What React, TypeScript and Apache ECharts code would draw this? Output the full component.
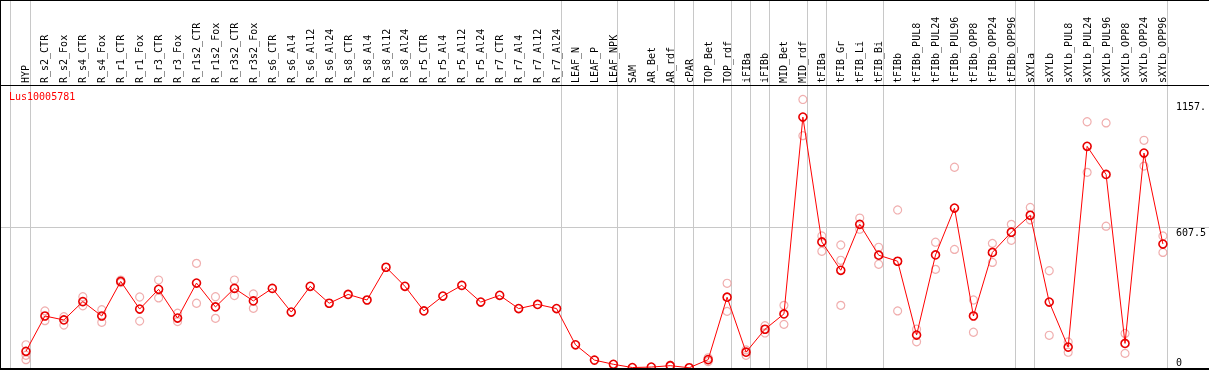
import React, { useEffect, useRef } from 'react';
import * as echarts from 'echarts';

const title = 'Lus10005781';

const categories = [
  'HYP', 'R_s2_CTR', 'R_s2_Fox', 'R_s4_CTR', 'R_s4_Fox', 'R_r1_CTR', 'R_r1_Fox', 'R_r3_CTR', 'R_r3_Fox',
  'R_r1s2_CTR', 'R_r1s2_Fox', 'R_r3s2_CTR', 'R_r3s2_Fox', 'R_s6_CTR', 'R_s6_Al4', 'R_s6_Al12', 'R_s6_Al24',
  'R_s8_CTR', 'R_s8_Al4', 'R_s8_Al12', 'R_s8_Al24', 'R_r5_CTR', 'R_r5_Al4', 'R_r5_Al12', 'R_r5_Al24',
  'R_r7_CTR', 'R_r7_Al4', 'R_r7_Al12', 'R_r7_Al24', 'LEAF_N', 'LEAF_P', 'LEAF_NPK', 'SAM', 'AR_Bet', 'AR_rdf',
  'cPAR', 'TOP_Bet', 'TOP_rdf', 'iFIBa', 'iFIBb', 'MID_Bet', 'MID_rdf', 'tFIBa', 'tFIB_Gr', 'tFIB_Li', 'tFIB_Bi',
  'tFIBb', 'tFIBb_PUL8', 'tFIBb_PUL24', 'tFIBb_PUL96', 'tFIBb_OPP8', 'tFIBb_OPP24', 'tFIBb_OPP96', 'sXYLa',
  'sXYLb', 'sXYLb_PUL8', 'sXYLb_PUL24', 'sXYLb_PUL96', 'sXYLb_OPP8', 'sXYLb_OPP24', 'sXYLb_OPP96',
];

const means = [
  72, 224, 207, 286, 224, 373, 254, 339, 215,
  366, 263, 343, 289, 343, 241, 352, 279,
  317, 293, 434, 352, 246, 310, 356, 284,
  313, 256, 274, 256, 100, 34, 16, 2, 4, 10,
  1, 36, 305, 68, 167, 233, 1081, 543, 421, 619, 486,
  460, 142, 487, 689, 224, 498, 585, 658,
  284, 90, 955, 834, 106, 926, 534,
];

const repA = [
  100, 246, 221, 307, 251, 379, 306, 379, 236,
  451, 307, 379, 319, null, null, null, null,
  null, null, null, null, null, null, null, null,
  null, null, null, null, null, null, null, null, null, 12,
  null, 44, 365, 78, 182, 270, 1157, 569, 530, 646, 520,
  681, 167, 542, 865, 293, 537, 619, 692,
  419, 112, 1061, 1056, 149, 981, 569,
];

const repB = [
  55, 204, 185, 268, 197, 368, 202, 302, 200,
  279, 214, 312, 257, null, null, null, null,
  null, null, null, null, null, null, null, null,
  null, null, null, null, null, null, null, null, null, 8,
  null, 28, 244, 55, 151, 188, 1001, 503, 464, 598, 447,
  246, 113, 425, 511, 154, 455, 550, 638,
  141, 68, 843, 611, 63, 870, 498,
];

const repC = [
  36, null, null, null, null, null, null, null, null,
  null, null, null, null, null, null, null, null,
  null, null, null, null, null, null, null, null,
  null, null, null, null, null, null, null, null, null, null,
  null, null, null, null, null, null, null, null, 270, null, null,
  null, null, null, null, null, null, null, null,
  null, null, null, null, null, null, null,
];

const groupEnds = [
  'HYP', 'R_r7_Al24', 'LEAF_NPK', 'AR_rdf', 'cPAR', 'TOP_rdf', 'iFIBa', 'iFIBb',
  'MID_rdf', 'tFIBa', 'tFIB_Bi', 'tFIBb_OPP96', 'sXYLa', 'sXYLb_OPP96',
];

const yMax = 1215;
const midValue = 607.5;
const yTickValues = [0, 607.5, 1157.14];
const yTickLabels = ['0', '607.5', '1157.'];

export default function App() {
  const ref = useRef<HTMLDivElement>(null);

  useEffect(() => {
    const chart = echarts.init(ref.current as HTMLDivElement, null, { renderer: 'svg' });
    const font = 'DejaVu Sans Mono';

    const repData: number[][] = [];
    [repA, repB, repC].forEach((arr) =>
      arr.forEach((v, i) => {
        if (v != null) repData.push([i, v as number]);
      })
    );

    // [categoryIndex, flag] flag=1 means line sits left of the first category
    const boundaries: number[][] = [[0, 1], ...groupEnds.map((n) => [categories.indexOf(n), 0])];

    const richBase = { fontFamily: font, fontSize: 10, color: '#000' };

    chart.setOption({
      animation: false,
      title: {
        text: title,
        left: 9,
        top: 91,
        padding: 0,
        textStyle: { color: '#ff0000', fontSize: 10, fontFamily: font, fontWeight: 'normal' },
      },
      grid: { left: 16.5, right: 33.5, top: 86, bottom: 2 },
      xAxis: {
        type: 'category',
        data: categories,
        position: 'top',
        boundaryGap: true,
        axisLine: { show: false },
        axisTick: { show: false },
        splitLine: { show: false },
        axisLabel: {
          rotate: 90,
          interval: 0,
          margin: 3,
          fontFamily: font,
          fontSize: 10,
          color: '#000',
        },
      },
      yAxis: {
        type: 'value',
        min: 0,
        max: yMax,
        position: 'right',
        axisLine: { show: false },
        axisTick: { show: false },
        splitLine: { show: false },
        axisLabel: {
          customValues: yTickValues,
          margin: 3.5,
          fontFamily: font,
          fontSize: 10,
          color: '#000',
          formatter: (v: number) => {
            const i = yTickValues.findIndex((t) => Math.abs(t - v) < 1e-6);
            if (i < 0) return '';
            return `{t${i}|${yTickLabels[i]}}`;
          },
          rich: {
            t0: { ...richBase, padding: [0, 0, 12, 0] },
            t1: { ...richBase, padding: [10, 0, 0, 0] },
            t2: { ...richBase, padding: [14, 0, 0, 0] },
          },
        },
      },
      graphic: [
        { type: 'line', shape: { x1: 0, y1: 0.5, x2: 1209, y2: 0.5 }, style: { stroke: '#000', lineWidth: 1 }, z: 100 },
        { type: 'line', shape: { x1: 0.5, y1: 0, x2: 0.5, y2: 370 }, style: { stroke: '#000', lineWidth: 1 }, z: 100 },
        { type: 'line', shape: { x1: 0, y1: 85.5, x2: 1209, y2: 85.5 }, style: { stroke: '#000', lineWidth: 1 }, z: 100 },
        { type: 'line', shape: { x1: 0, y1: 369, x2: 1209, y2: 369 }, style: { stroke: '#000', lineWidth: 2 }, z: 100 },
      ],
      series: [
        {
          type: 'custom',
          coordinateSystem: 'cartesian2d',
          data: boundaries,
          encode: { x: 0, y: 1 },
          clip: false,
          silent: true,
          z: 0,
          renderItem: (params: any, api: any) => {
            const idx = api.value(0);
            const flag = api.value(1);
            const band = api.size([1, 0])[0];
            const cx = api.coord([idx, 0])[0];
            const x = flag ? cx - band + 3 : cx + 4;
            const xr = Math.round(x) + 0.5;
            return {
              type: 'line',
              shape: { x1: xr, y1: 0, x2: xr, y2: api.getHeight() },
              style: { stroke: '#c8c8c8', lineWidth: 1 },
            };
          },
        },
        {
          type: 'custom',
          coordinateSystem: 'cartesian2d',
          data: [[0, midValue]],
          encode: { x: 0, y: 1 },
          clip: false,
          silent: true,
          z: 0,
          renderItem: (params: any, api: any) => {
            const y = Math.round(api.coord([0, api.value(1)])[1]) + 0.5;
            return {
              type: 'line',
              shape: { x1: 0, y1: y, x2: api.getWidth(), y2: y },
              style: { stroke: '#c8c8c8', lineWidth: 1 },
            };
          },
        },
        {
          type: 'scatter',
          data: repData,
          symbol: 'circle',
          symbolSize: 8,
          silent: true,
          z: 2,
          itemStyle: { color: 'rgba(0,0,0,0)', borderColor: '#ec9a9a', borderWidth: 1.2 },
        },
        {
          type: 'line',
          data: means,
          symbol: 'circle',
          symbolSize: 8,
          showAllSymbol: true,
          silent: true,
          z: 3,
          lineStyle: { color: '#ff0000', width: 1 },
          itemStyle: { color: 'rgba(0,0,0,0)', borderColor: '#e80000', borderWidth: 1.6 },
        },
      ],
    });

    return () => chart.dispose();
  }, []);

  return <div ref={ref} style={{ position: 'fixed', left: 0, top: 0, width: 1209, height: 370 }} />;
}
